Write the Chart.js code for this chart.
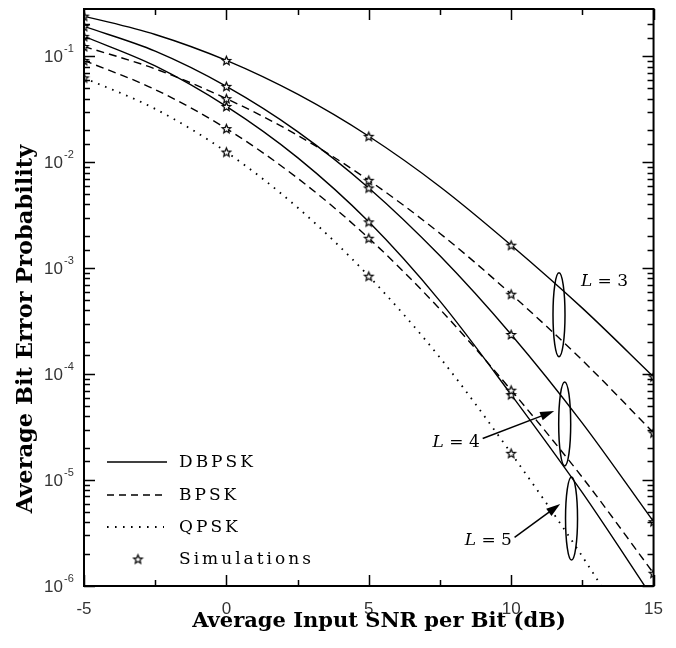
<!DOCTYPE html>
<html>
<head>
<meta charset="utf-8">
<script src="https://cdn.jsdelivr.net/npm/chart.js@4.4.1/dist/chart.umd.min.js"></script>
<style>
  html, body { margin: 0; padding: 0; background: #fff; }
  #wrap { width: 676px; height: 648px; }
</style>
</head>
<body>
<div id="wrap"><canvas id="berChart" width="676" height="648"></canvas></div>
<script>
// Average BER vs SNR per bit, diversity order L = 3, 4, 5

// x values (dB) the curves were read at
const snrDb = [-5, -2.5, 0, 2.5, 5, 7.5, 10, 12.5, 15];

// curves
const dbpskL3 = [0.240, 0.161, 0.0916, 0.0439, 0.0176, 5.88e-3, 1.65e-3, 4.20e-4, 9.44e-5];
const dbpskL4 = [0.192, 0.112, 0.0521, 0.0195, 5.73e-3, 1.31e-3, 2.37e-4, 3.45e-5, 4.05e-6];
const dbpskL5 = [0.1545, 0.0812, 0.0337, 0.01106, 2.74e-3, 4.89e-4, 6.41e-5, 7.6e-6, 7.5e-7];
const bpskL3 = [0.124, 0.0762, 0.0399, 0.0180, 6.76e-3, 2.13e-3, 5.69e-4, 1.35e-4, 2.79e-5];
const bpskL4 = [0.0916, 0.0486, 0.0208, 7.08e-3, 1.92e-3, 4.10e-4, 7.06e-5, 1.06e-5, 1.32e-6];
const qpskL5 = [0.0627, 0.0319, 0.0125, 3.74e-3, 8.41e-4, 1.43e-4, 1.79e-5, 1.9e-6, 1.6e-7];

// simulation points sit on the curves at these SNRs
const simSnr = [-5, 0, 5, 10, 15];

// axis ticks
const xMajorTicks = [-5, 0, 5, 10, 15];
const yTickValues = [1e-6, 1e-5, 1e-4, 1e-3, 1e-2, 1e-1];
const yTickExps = ['-6', '-5', '-4', '-3', '-2', '-1'];

// legend entries
const legendLabels = ['DBPSK', 'BPSK', 'QPSK', 'Simulations'];

// L = n annotations: ellipse (x, yTop, yBottom), label and arrow
const groupLabels = ['L = 3', 'L = 4', 'L = 5'];
const ellipseX = [11.68, 11.88, 12.12];
const ellipseTop = [9.04e-4, 8.45e-5, 1.07e-5];
const ellipseBottom = [1.46e-4, 1.36e-5, 1.76e-6];
const labelX = [12.45, 7.24, 8.37];
const labelY = [7.46e-4, 2.26e-5, 2.66e-6];
const arrowFrom = [null, [9.0, 2.47e-5], [10.12, 2.88e-6]];
const arrowTo = [null, [11.51, 4.48e-5], [11.72, 5.94e-6]];

function toPoints(xs, ys) {
  return xs.map((x, i) => ({ x: x, y: ys[i] }));
}

// hollow five point star used for the simulation markers
function makeStar(r) {
  const size = Math.ceil(r * 2 + 3);
  const c = document.createElement('canvas');
  c.width = size;
  c.height = size;
  const g = c.getContext('2d');
  g.translate(size / 2, size / 2 + 0.5);
  g.beginPath();
  for (let i = 0; i < 10; i++) {
    const rad = i % 2 === 0 ? r : r * 0.45;
    const a = -Math.PI / 2 + i * Math.PI / 5;
    g.lineTo(rad * Math.cos(a), rad * Math.sin(a));
  }
  g.closePath();
  g.fillStyle = '#fff';
  g.fill();
  g.strokeStyle = '#000';
  g.lineWidth = 1.2;
  g.stroke();
  return c;
}
const starImg = makeStar(4.6);

const curves = [
  { data: dbpskL3, dash: [] },
  { data: dbpskL4, dash: [] },
  { data: dbpskL5, dash: [] },
  { data: bpskL3, dash: [8, 5] },
  { data: bpskL4, dash: [8, 5] },
  { data: qpskL5, dash: [1.6, 6] }
];

// star points taken from the curves
const simPoints = [];
curves.forEach(c => {
  simSnr.forEach(x => {
    const i = snrDb.indexOf(x);
    simPoints.push({ x: x, y: c.data[i] });
  });
});

const datasets = [{
  type: 'scatter',
  label: 'Simulations',
  data: simPoints,
  pointStyle: starImg,
  pointRadius: 5,
  showLine: false
}];
curves.forEach(c => {
  datasets.push({
    type: 'line',
    data: toPoints(snrDb, c.data),
    borderColor: '#000',
    borderWidth: c.dash.length === 2 && c.dash[0] < 2 ? 1.8 : 1.4,
    borderDash: c.dash,
    pointRadius: 0,
    fill: false,
    cubicInterpolationMode: 'monotone'
  });
});

function drawArrow(ctx, x0, y0, x1, y1) {
  const ang = Math.atan2(y1 - y0, x1 - x0);
  const len = 14, half = 4.5;
  ctx.beginPath();
  ctx.moveTo(x0, y0);
  ctx.lineTo(x1 - len * Math.cos(ang) * 0.8, y1 - len * Math.sin(ang) * 0.8);
  ctx.stroke();
  ctx.beginPath();
  ctx.moveTo(x1, y1);
  ctx.lineTo(x1 - len * Math.cos(ang) + half * Math.sin(ang), y1 - len * Math.sin(ang) - half * Math.cos(ang));
  ctx.lineTo(x1 - len * Math.cos(ang) - half * Math.sin(ang), y1 - len * Math.sin(ang) + half * Math.cos(ang));
  ctx.closePath();
  ctx.fill();
}

const decorPlugin = {
  id: 'decor',
  afterDraw(chart) {
    const ctx = chart.ctx;
    const area = chart.chartArea;
    const xs = chart.scales.x;
    const ys = chart.scales.y;
    ctx.save();
    ctx.strokeStyle = '#000';
    ctx.fillStyle = '#000';

    // inward tick marks on all four sides
    ctx.lineWidth = 1.5;
    ys.ticks.forEach(t => {
      const lg = Math.log10(t.value);
      if (t.value > ys.max * 0.999) return;
      const major = Math.abs(lg - Math.round(lg)) < 1e-6;
      const len = major ? 11 : 6;
      const py = Math.round(ys.getPixelForValue(t.value)) + 0.5;
      ctx.beginPath();
      ctx.moveTo(area.left, py);
      ctx.lineTo(area.left + len, py);
      ctx.moveTo(area.right, py);
      ctx.lineTo(area.right - len, py);
      ctx.stroke();
    });
    xs.ticks.forEach(t => {
      const major = xMajorTicks.includes(t.value);
      const len = major ? 11 : 6;
      const px = Math.round(xs.getPixelForValue(t.value)) + 0.5;
      ctx.beginPath();
      ctx.moveTo(px, area.bottom);
      ctx.lineTo(px, area.bottom - len);
      ctx.moveTo(px, area.top);
      ctx.lineTo(px, area.top + len);
      ctx.stroke();
    });

    // frame
    ctx.lineWidth = 2;
    ctx.strokeRect(area.left, area.top, area.right - area.left, area.bottom - area.top);

    // y tick labels 10^n
    ctx.fillStyle = '#333';
    yTickValues.forEach((v, i) => {
      const py = ys.getPixelForValue(v);
      ctx.font = '17px "Liberation Sans"';
      ctx.textAlign = 'right';
      ctx.textBaseline = 'middle';
      ctx.fillText('10', area.left - 21, py + 1);
      ctx.font = '11px "Liberation Sans"';
      ctx.textAlign = 'left';
      ctx.fillText(yTickExps[i], area.left - 20, py - 7);
    });

    // axis titles
    ctx.fillStyle = '#000';
    ctx.textAlign = 'center';
    ctx.textBaseline = 'alphabetic';
    ctx.font = 'bold 21px "DejaVu Serif"';
    ctx.fillText('Average Input SNR per Bit (dB)', 379, 627);
    ctx.save();
    ctx.translate(32, 329);
    ctx.rotate(-Math.PI / 2);
    ctx.font = 'bold 22.5px "DejaVu Serif"';
    ctx.fillText('Average Bit Error Probability', 0, 0);
    ctx.restore();

    // legend
    const lx = area.left + 23;
    const rows = [area.bottom - 124, area.bottom - 91, area.bottom - 59, area.bottom - 27];
    ctx.lineWidth = 1.4;
    ctx.setLineDash([]);
    ctx.beginPath(); ctx.moveTo(lx, rows[0]); ctx.lineTo(lx + 60, rows[0]); ctx.stroke();
    ctx.setLineDash([7, 5]);
    ctx.beginPath(); ctx.moveTo(lx, rows[1]); ctx.lineTo(lx + 60, rows[1]); ctx.stroke();
    ctx.lineWidth = 1.8;
    ctx.setLineDash([1.6, 6.4]);
    ctx.beginPath(); ctx.moveTo(lx, rows[2]); ctx.lineTo(lx + 57, rows[2]); ctx.stroke();
    ctx.setLineDash([]);
    ctx.drawImage(starImg, lx + 31 - starImg.width / 2, rows[3] - starImg.height / 2);
    ctx.font = '17px "DejaVu Serif"';
    ctx.letterSpacing = '3px';
    ctx.textAlign = 'left';
    ctx.textBaseline = 'middle';
    legendLabels.forEach((s, i) => ctx.fillText(s, lx + 72, rows[i] + 1));
    ctx.letterSpacing = '0px';

    // L = n groups
    ctx.lineWidth = 1.5;
    groupLabels.forEach((s, i) => {
      const cx = xs.getPixelForValue(ellipseX[i]);
      const t = ys.getPixelForValue(ellipseTop[i]);
      const b = ys.getPixelForValue(ellipseBottom[i]);
      ctx.beginPath();
      ctx.ellipse(cx, (t + b) / 2, 6, (b - t) / 2, 0, 0, Math.PI * 2);
      ctx.stroke();

      const tx = xs.getPixelForValue(labelX[i]);
      const ty = ys.getPixelForValue(labelY[i]);
      ctx.textBaseline = 'middle';
      ctx.font = 'italic 17px "DejaVu Serif"';
      ctx.fillText('L', tx, ty);
      const w = ctx.measureText('L').width;
      ctx.font = '17px "DejaVu Serif"';
      ctx.fillText(s.slice(1), tx + w, ty);

      if (arrowFrom[i]) {
        drawArrow(ctx,
          xs.getPixelForValue(arrowFrom[i][0]), ys.getPixelForValue(arrowFrom[i][1]),
          xs.getPixelForValue(arrowTo[i][0]), ys.getPixelForValue(arrowTo[i][1]));
      }
    });
    ctx.restore();
  }
};

new Chart(document.getElementById('berChart'), {
  data: { datasets: datasets },
  options: {
    responsive: false,
    animation: false,
    layout: { padding: { top: 9, right: 15, left: 0, bottom: 0 } },
    plugins: {
      legend: { display: false },
      tooltip: { enabled: false }
    },
    scales: {
      x: {
        type: 'linear',
        min: -5,
        max: 15,
        grid: { display: false, drawTicks: false },
        border: { display: false },
        ticks: {
          stepSize: 2.5,
          autoSkip: false,
          maxRotation: 0,
          padding: 13,
          color: '#333',
          font: { family: 'Liberation Sans', size: 17 },
          callback: v => xMajorTicks.includes(v) ? String(v) : ''
        },
        afterFit: s => { s.height = 62; }
      },
      y: {
        type: 'logarithmic',
        min: 1e-6,
        max: 0.28,
        grid: { display: false, drawTicks: false },
        border: { display: false },
        ticks: { display: false },
        afterFit: s => { s.width = 84; }
      }
    }
  },
  plugins: [decorPlugin]
});
</script>
</body>
</html>
